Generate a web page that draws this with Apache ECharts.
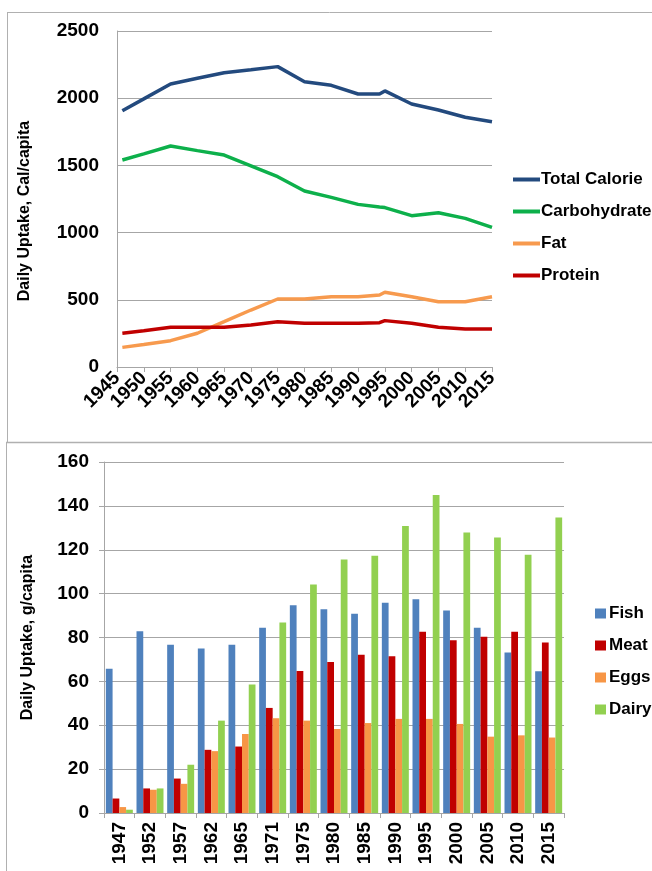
<!DOCTYPE html>
<html>
<head>
<meta charset="utf-8">
<script src="https://cdn.jsdelivr.net/npm/echarts@6/dist/echarts.min.js"></script>
<style>
  html, body { margin: 0; padding: 0; background: #fff; }
  #chart-container { width: 652px; height: 871px; }
</style>
</head>
<body>
<div id="chart-container"></div>
<script>
// top chart: daily calorie uptake
var calYears = [1946, 1950, 1955, 1960, 1965, 1970, 1975, 1980, 1985, 1990, 1994, 1995, 2000, 2005, 2010, 2015];
var totalCalorie = [1907, 1995, 2106, 2148, 2190, 2212, 2235, 2123, 2096, 2031, 2031, 2054, 1957, 1912, 1858, 1825];
var carbohydrate = [1540, 1586, 1644, 1610, 1577, 1497, 1416, 1310, 1262, 1210, 1190, 1186, 1126, 1148, 1106, 1039];
var fat = [146, 168, 196, 251, 337, 424, 506, 506, 523, 523, 536, 556, 523, 486, 486, 523];
var protein = [251, 270, 295, 295, 295, 312, 337, 325, 325, 325, 330, 345, 325, 295, 283, 283];

// bottom chart: daily food uptake g/capita
var foodYears = ['1947', '1952', '1957', '1962', '1965', '1971', '1975', '1980', '1985', '1990', '1995', '2000', '2005', '2010', '2015'];
var fish = [65.7, 82.9, 76.7, 75, 76.7, 84.5, 94.7, 92.9, 90.8, 95.8, 97.4, 92.3, 84.4, 73.2, 64.6];
var meat = [6.6, 11.2, 15.7, 28.8, 30.3, 47.9, 64.7, 68.8, 72.1, 71.5, 82.6, 78.8, 80.3, 82.6, 77.7];
var eggs = [2.7, 10.6, 13.3, 28.2, 36, 43.2, 42.1, 38.3, 41, 42.9, 42.9, 40.6, 34.8, 35.4, 34.4];
var dairy = [1.5, 11.2, 22, 42.1, 58.6, 86.8, 104.2, 115.6, 117.3, 130.8, 145, 127.9, 125.6, 117.7, 134.7];

function pairs(xs, ys) {
    var out = [];
    for (var i = 0; i < xs.length; i++) out.push([xs[i], ys[i]]);
    return out;
}

var fontFam = 'Liberation Sans, Arial, sans-serif';
var gridGray = '#a6a6a6';
var plain = function (v) { return String(v); };  // no thousands commas

var chart = echarts.init(document.getElementById('chart-container'));

function lineSeries(name, data, color) {
    return {
        name: name,
        type: 'line',
        xAxisIndex: 0,
        yAxisIndex: 0,
        data: pairs(calYears, data),
        showSymbol: false,
        symbol: 'none',
        lineStyle: { color: color, width: 3.5 },
        itemStyle: { color: color },
        animation: false
    };
}

function barSeries(name, data, color) {
    return {
        name: name,
        type: 'bar',
        xAxisIndex: 1,
        yAxisIndex: 1,
        data: data,
        barGap: '0%',
        barCategoryGap: '12%',
        itemStyle: { color: color },
        animation: false
    };
}

var option = {
    backgroundColor: '#fff',
    textStyle: { fontFamily: fontFam },
    graphic: [
        // panel frames
        { type: 'line', shape: { x1: 7, y1: 12.5, x2: 652, y2: 12.5 }, style: { stroke: '#b0b0b0', lineWidth: 1 } },
        { type: 'line', shape: { x1: 7.5, y1: 12, x2: 7.5, y2: 443 }, style: { stroke: '#b0b0b0', lineWidth: 1 } },
        { type: 'line', shape: { x1: 6, y1: 442.5, x2: 652, y2: 442.5 }, style: { stroke: '#b0b0b0', lineWidth: 1.5 } },
        { type: 'line', shape: { x1: 6.5, y1: 442, x2: 6.5, y2: 871 }, style: { stroke: '#b0b0b0', lineWidth: 1 } }
    ],
    grid: [
        { left: 117, top: 31, width: 375, height: 336 },
        { left: 104, top: 462, width: 460, height: 351 }
    ],
    legend: [
        {
            data: ['Total Calorie', 'Carbohydrate', 'Fat', 'Protein'],
            orient: 'vertical',
            left: 508,
            top: 166,
            itemWidth: 27,
            itemHeight: 4,
            itemGap: 15,
            icon: 'rect',
            textStyle: { fontSize: 17, fontWeight: 'bold', color: '#000', padding: [0, 0, 0, -4] }
        },
        {
            data: ['Fish', 'Meat', 'Eggs', 'Dairy'],
            orient: 'vertical',
            left: 590,
            top: 600,
            itemWidth: 11,
            itemHeight: 10,
            itemGap: 15,
            icon: 'rect',
            textStyle: { fontSize: 17, fontWeight: 'bold', color: '#000', padding: [0, 0, 0, -2] }
        }
    ],
    xAxis: [
        {
            type: 'value',
            gridIndex: 0,
            min: 1945,
            max: 2015,
            interval: 5,
            splitLine: { show: false },
            axisLine: { lineStyle: { color: gridGray } },
            axisTick: { show: true, length: 5, lineStyle: { color: gridGray } },
            axisLabel: {
                rotate: 45,
                color: '#000',
                fontSize: 19,
                fontWeight: 'bold',
                margin: 8,
                formatter: plain
            }
        },
        {
            type: 'category',
            gridIndex: 1,
            data: foodYears,
            axisLine: { lineStyle: { color: gridGray } },
            axisTick: { show: true, length: 5, lineStyle: { color: gridGray } },
            axisLabel: {
                rotate: 90,
                color: '#000',
                fontSize: 19,
                fontWeight: 'bold',
                margin: 9
            }
        }
    ],
    yAxis: [
        {
            type: 'value',
            gridIndex: 0,
            min: 0,
            max: 2500,
            interval: 500,
            name: 'Daily Uptake, Cal/capita',
            nameLocation: 'middle',
            nameGap: 84,
            nameTextStyle: { fontSize: 16, fontWeight: 'bold', color: '#000', padding: [0, 24, 0, 0] },
            axisLine: { show: true, lineStyle: { color: gridGray } },
            axisTick: { show: false },
            splitLine: { lineStyle: { color: gridGray, width: 1 } },
            axisLabel: { color: '#000', fontSize: 19, fontWeight: 'bold', margin: 18, formatter: plain }
        },
        {
            type: 'value',
            gridIndex: 1,
            min: 0,
            max: 160,
            interval: 20,
            name: 'Daily Uptake, g/capita',
            nameLocation: 'middle',
            nameGap: 68,
            nameTextStyle: { fontSize: 16, fontWeight: 'bold', color: '#000' },
            axisLine: { show: true, lineStyle: { color: gridGray } },
            axisTick: { show: true, length: 5, lineStyle: { color: gridGray } },
            splitLine: { lineStyle: { color: gridGray, width: 1 } },
            axisLabel: { color: '#000', fontSize: 19, fontWeight: 'bold', margin: 15, formatter: plain }
        }
    ],
    series: [
        lineSeries('Total Calorie', totalCalorie, '#234a7e'),
        lineSeries('Carbohydrate', carbohydrate, '#0db04b'),
        lineSeries('Fat', fat, '#f79a4e'),
        lineSeries('Protein', protein, '#c00000'),
        barSeries('Fish', fish, '#4f81bd'),
        barSeries('Meat', meat, '#c00000'),
        barSeries('Eggs', eggs, '#f79646'),
        barSeries('Dairy', dairy, '#92d050')
    ]
};

chart.setOption(option);
window.addEventListener('resize', chart.resize);
</script>
</body>
</html>
